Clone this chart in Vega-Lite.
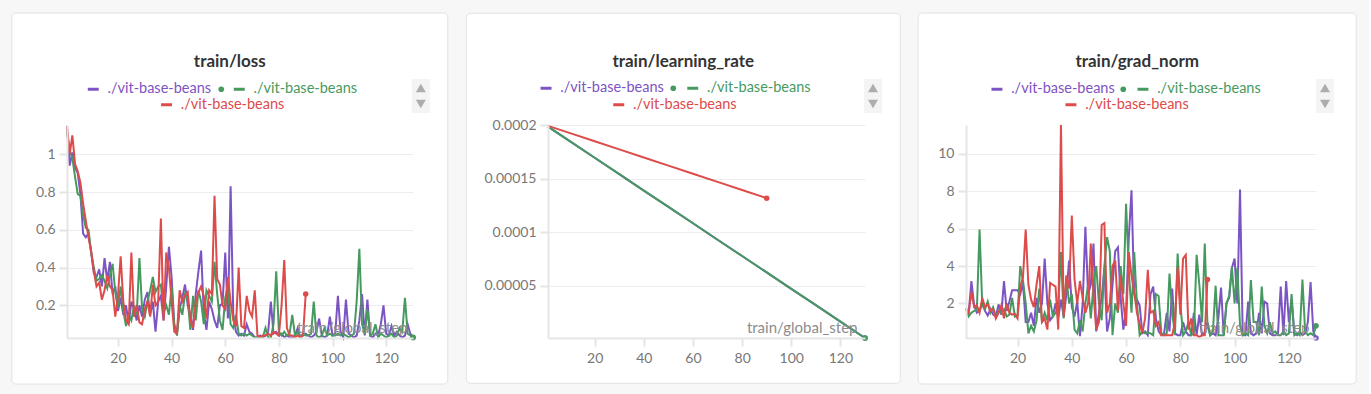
{
  "$schema": "https://vega.github.io/schema/vega-lite/v6.json",
  "background": "#f7f7f7",
  "padding": {"left": 11, "top": 12, "right": 12, "bottom": 10},
  "datasets": {
    "loss": [
      {"s":1,"a":1.14,"b":1.12,"c":1.15},{"s":2,"a":0.94,"b":1.02,"c":1.0},{"s":3,"a":1.01,"b":0.98,"c":1.1},{"s":4,"a":0.93,"b":0.88,"c":0.95},{"s":5,"a":0.9,"b":0.79,"c":0.91},
      {"s":6,"a":0.79,"b":0.78,"c":0.85},{"s":7,"a":0.58,"b":0.68,"c":0.74},{"s":8,"a":0.56,"b":0.61,"c":0.65},{"s":9,"a":0.58,"b":0.6,"c":0.56},{"s":10,"a":0.48,"b":0.48,"c":0.49},
      {"s":11,"a":0.37,"b":0.4,"c":0.38},{"s":12,"a":0.35,"b":0.33,"c":0.3},{"s":13,"a":0.39,"b":0.34,"c":0.32},{"s":14,"a":0.3,"b":0.36,"c":0.23},{"s":15,"a":0.45,"b":0.33,"c":0.28},
      {"s":16,"a":0.33,"b":0.29,"c":0.36},{"s":17,"a":0.43,"b":0.36,"c":0.3},{"s":18,"a":0.26,"b":0.42,"c":0.28},{"s":19,"a":0.3,"b":0.27,"c":0.14},{"s":20,"a":0.17,"b":0.19,"c":0.25},
      {"s":21,"a":0.24,"b":0.3,"c":0.46},{"s":22,"a":0.15,"b":0.17,"c":0.22},{"s":23,"a":0.2,"b":0.09,"c":0.12},{"s":24,"a":0.1,"b":0.15,"c":0.1},{"s":25,"a":0.22,"b":0.12,"c":0.48},
      {"s":26,"a":0.18,"b":0.2,"c":0.14},{"s":27,"a":0.12,"b":0.15,"c":0.2},{"s":28,"a":0.2,"b":0.45,"c":0.11},{"s":29,"a":0.14,"b":0.18,"c":0.1},{"s":30,"a":0.23,"b":0.14,"c":0.18},
      {"s":31,"a":0.27,"b":0.22,"c":0.22},{"s":32,"a":0.15,"b":0.28,"c":0.14},{"s":33,"a":0.22,"b":0.35,"c":0.31},{"s":34,"a":0.06,"b":0.27,"c":0.2},{"s":35,"a":0.22,"b":0.3,"c":0.22},
      {"s":36,"a":0.25,"b":0.31,"c":0.66},{"s":37,"a":0.12,"b":0.16,"c":0.12},{"s":38,"a":0.3,"b":0.2,"c":0.48},{"s":39,"a":0.51,"b":0.15,"c":0.4},{"s":40,"a":0.35,"b":0.3,"c":0.22},
      {"s":41,"a":0.1,"b":0.09,"c":0.06},{"s":42,"a":0.05,"b":0.04,"c":0.05},{"s":43,"a":0.18,"b":0.2,"c":0.28},{"s":44,"a":0.24,"b":0.15,"c":0.22},{"s":45,"a":0.31,"b":0.26,"c":0.25},
      {"s":46,"a":0.2,"b":0.23,"c":0.27},{"s":47,"a":0.15,"b":0.07,"c":0.12},{"s":48,"a":0.07,"b":0.25,"c":0.08},{"s":49,"a":0.26,"b":0.12,"c":0.22},{"s":50,"a":0.38,"b":0.28,"c":0.27},
      {"s":51,"a":0.49,"b":0.22,"c":0.3},{"s":52,"a":0.16,"b":0.1,"c":0.25},{"s":53,"a":0.07,"b":0.28,"c":0.13},{"s":54,"a":0.22,"b":0.25,"c":0.28},{"s":55,"a":0.18,"b":0.22,"c":0.26},
      {"s":56,"a":0.12,"b":0.43,"c":0.78},{"s":57,"a":0.08,"b":0.26,"c":0.34},{"s":58,"a":0.2,"b":0.12,"c":0.31},{"s":59,"a":0.21,"b":0.07,"c":0.2},{"s":60,"a":0.48,"b":0.24,"c":0.18},
      {"s":61,"a":0.13,"b":0.3,"c":0.35},{"s":62,"a":0.83,"b":0.1,"c":0.22},{"s":63,"a":0.15,"b":0.08,"c":0.12},{"s":64,"a":0.06,"b":0.15,"c":0.09},{"s":65,"a":0.04,"b":0.05,"c":0.4},
      {"s":66,"a":0.05,"b":0.04,"c":0.09},{"s":67,"a":0.04,"b":0.05,"c":0.08},{"s":68,"a":0.1,"b":0.04,"c":0.25},{"s":69,"a":0.06,"b":0.05,"c":0.17},{"s":70,"a":0.05,"b":0.04,"c":0.14},
      {"s":71,"a":0.03,"b":0.03,"c":0.28},{"s":72,"a":0.03,"b":0.03,"c":0.04},{"s":73,"a":0.04,"b":0.03,"c":0.03},{"s":74,"a":0.03,"b":0.03,"c":0.04},{"s":75,"a":0.04,"b":0.08,"c":0.04},
      {"s":76,"a":0.06,"b":0.03,"c":0.05},{"s":77,"a":0.22,"b":0.03,"c":0.04},{"s":78,"a":0.05,"b":0.1,"c":0.06},{"s":79,"a":0.06,"b":0.38,"c":0.05},{"s":80,"a":0.04,"b":0.06,"c":0.04},
      {"s":81,"a":0.05,"b":0.04,"c":0.2},{"s":82,"a":0.03,"b":0.06,"c":0.44},{"s":83,"a":0.04,"b":0.04,"c":0.08},{"s":84,"a":0.03,"b":0.05,"c":0.04},{"s":85,"a":0.03,"b":0.15,"c":0.04},
      {"s":86,"a":0.04,"b":0.04,"c":0.03},{"s":87,"a":0.08,"b":0.06,"c":0.04},{"s":88,"a":0.03,"b":0.03,"c":0.03},{"s":89,"a":0.04,"b":0.05,"c":0.04},{"s":90,"a":0.05,"b":0.04,"c":0.26},
      {"s":91,"a":0.04,"b":0.04},{"s":92,"a":0.03,"b":0.05},{"s":93,"a":0.04,"b":0.22},{"s":94,"a":0.06,"b":0.04},{"s":95,"a":0.13,"b":0.03},
      {"s":96,"a":0.04,"b":0.04},{"s":97,"a":0.03,"b":0.08},{"s":98,"a":0.04,"b":0.04},{"s":99,"a":0.14,"b":0.05},{"s":100,"a":0.04,"b":0.04},
      {"s":101,"a":0.05,"b":0.04},{"s":102,"a":0.25,"b":0.05},{"s":103,"a":0.06,"b":0.04},{"s":104,"a":0.03,"b":0.05},{"s":105,"a":0.23,"b":0.04},
      {"s":106,"a":0.05,"b":0.03},{"s":107,"a":0.04,"b":0.04},{"s":108,"a":0.03,"b":0.05},{"s":109,"a":0.04,"b":0.22},{"s":110,"a":0.12,"b":0.5},
      {"s":111,"a":0.26,"b":0.1},{"s":112,"a":0.04,"b":0.05},{"s":113,"a":0.23,"b":0.18},{"s":114,"a":0.04,"b":0.04},{"s":115,"a":0.03,"b":0.05},
      {"s":116,"a":0.05,"b":0.1},{"s":117,"a":0.04,"b":0.03},{"s":118,"a":0.1,"b":0.05},{"s":119,"a":0.2,"b":0.04},{"s":120,"a":0.05,"b":0.03},
      {"s":121,"a":0.04,"b":0.04},{"s":122,"a":0.09,"b":0.05},{"s":123,"a":0.04,"b":0.03},{"s":124,"a":0.06,"b":0.04},{"s":125,"a":0.04,"b":0.08},
      {"s":126,"a":0.03,"b":0.06},{"s":127,"a":0.04,"b":0.24},{"s":128,"a":0.1,"b":0.05},{"s":129,"a":0.05,"b":0.04},{"s":130,"a":0.03,"b":0.03}
    ],
    "lr": [
      {"s":1,"a":0.0001985,"b":0.0001985,"c":0.0001992},{"s":10,"a":0.0001847,"b":0.0001847,"c":0.0001924},{"s":20,"a":0.0001695,"b":0.0001695,"c":0.0001848},
      {"s":30,"a":0.0001542,"b":0.0001542,"c":0.0001773},{"s":40,"a":0.0001389,"b":0.0001389,"c":0.0001697},{"s":50,"a":0.0001237,"b":0.0001237,"c":0.0001621},
      {"s":60,"a":0.0001084,"b":0.0001084,"c":0.0001545},{"s":70,"a":0.0000931,"b":0.0000931,"c":0.000147},{"s":80,"a":0.0000779,"b":0.0000779,"c":0.0001394},
      {"s":90,"a":0.0000626,"b":0.0000626,"c":0.0001318},{"s":100,"a":0.0000473,"b":0.0000473},{"s":110,"a":0.0000321,"b":0.0000321},
      {"s":120,"a":0.0000168,"b":0.0000168},{"s":130,"a":0.0000015,"b":0.0000015}
    ],
    "gn": [
      {"s":1,"a":1.7,"b":1.7,"c":1.75},{"s":2,"a":1.5,"b":1.3,"c":1.5},{"s":3,"a":3.2,"b":1.5,"c":2.6},{"s":4,"a":1.9,"b":1.6,"c":1.8},{"s":5,"a":1.5,"b":1.65,"c":1.9},
      {"s":6,"a":1.6,"b":5.95,"c":1.5},{"s":7,"a":2.0,"b":1.9,"c":2.3},{"s":8,"a":1.6,"b":1.7,"c":1.8},{"s":9,"a":1.35,"b":2.1,"c":1.95},{"s":10,"a":1.7,"b":1.5,"c":1.6},
      {"s":11,"a":1.4,"b":1.8,"c":1.7},{"s":12,"a":1.3,"b":1.3,"c":1.2},{"s":13,"a":1.95,"b":1.6,"c":1.5},{"s":14,"a":1.4,"b":1.5,"c":1.9},{"s":15,"a":3.2,"b":1.7,"c":1.2},
      {"s":16,"a":1.6,"b":1.3,"c":2.0},{"s":17,"a":2.1,"b":1.4,"c":1.5},{"s":18,"a":2.7,"b":2.3,"c":1.4},{"s":19,"a":2.7,"b":1.3,"c":1.45},{"s":20,"a":2.7,"b":1.4,"c":1.2},
      {"s":21,"a":2.5,"b":4.0,"c":2.9},{"s":22,"a":3.1,"b":3.2,"c":3.4},{"s":23,"a":1.0,"b":2.0,"c":5.95},{"s":24,"a":1.0,"b":0.4,"c":3.0},{"s":25,"a":1.5,"b":0.8,"c":2.2},
      {"s":26,"a":0.8,"b":0.5,"c":1.8},{"s":27,"a":2.3,"b":1.1,"c":3.0},{"s":28,"a":1.5,"b":2.8,"c":4.0},{"s":29,"a":2.0,"b":1.0,"c":1.0},{"s":30,"a":4.4,"b":1.5,"c":1.2},
      {"s":31,"a":2.0,"b":1.1,"c":0.6},{"s":32,"a":1.1,"b":2.2,"c":3.1},{"s":33,"a":1.3,"b":1.3,"c":3.0},{"s":34,"a":2.0,"b":1.5,"c":2.9},{"s":35,"a":1.2,"b":1.8,"c":0.6},
      {"s":36,"a":2.2,"b":4.75,"c":11.55},{"s":37,"a":1.3,"b":1.2,"c":1.3},{"s":38,"a":2.5,"b":3.4,"c":3.5},{"s":39,"a":4.3,"b":2.0,"c":2.8},{"s":40,"a":1.8,"b":2.5,"c":6.7},
      {"s":41,"a":1.3,"b":0.6,"c":3.3},{"s":42,"a":2.1,"b":0.4,"c":2.0},{"s":43,"a":0.25,"b":1.1,"c":3.2},{"s":44,"a":2.0,"b":0.5,"c":2.3},{"s":45,"a":6.1,"b":2.0,"c":1.5},
      {"s":46,"a":2.5,"b":3.0,"c":2.0},{"s":47,"a":3.0,"b":1.2,"c":5.2},{"s":48,"a":5.2,"b":3.0,"c":2.5},{"s":49,"a":0.5,"b":4.0,"c":0.6},{"s":50,"a":1.5,"b":2.0,"c":1.0},
      {"s":51,"a":2.3,"b":1.1,"c":6.2},{"s":52,"a":3.9,"b":4.0,"c":6.3},{"s":53,"a":0.5,"b":5.55,"c":1.5},{"s":54,"a":1.2,"b":4.8,"c":2.0},{"s":55,"a":3.0,"b":0.3,"c":4.0},
      {"s":56,"a":4.8,"b":2.0,"c":4.3},{"s":57,"a":5.0,"b":1.5,"c":1.6},{"s":58,"a":2.3,"b":4.0,"c":3.5},{"s":59,"a":0.6,"b":2.5,"c":2.0},{"s":60,"a":1.6,"b":7.33,"c":0.8},
      {"s":61,"a":5.5,"b":3.8,"c":4.75},{"s":62,"a":8.05,"b":1.5,"c":3.5},{"s":63,"a":2.5,"b":4.75,"c":2.6},{"s":64,"a":2.2,"b":2.0,"c":1.5},{"s":65,"a":1.9,"b":0.3,"c":0.9},
      {"s":66,"a":0.4,"b":0.5,"c":0.4},{"s":67,"a":0.5,"b":0.4,"c":1.2},{"s":68,"a":0.3,"b":0.45,"c":3.8},{"s":69,"a":2.5,"b":0.4,"c":1.5},{"s":70,"a":2.9,"b":0.3,"c":1.6},
      {"s":71,"a":1.2,"b":2.5,"c":0.8},{"s":72,"a":0.5,"b":2.4,"c":1.0},{"s":73,"a":0.3,"b":0.4,"c":0.3},{"s":74,"a":0.4,"b":0.3,"c":0.3},{"s":75,"a":1.5,"b":0.4,"c":0.3},
      {"s":76,"a":0.5,"b":3.6,"c":0.3},{"s":77,"a":2.8,"b":1.5,"c":0.3},{"s":78,"a":0.4,"b":0.3,"c":1.0},{"s":79,"a":0.3,"b":4.67,"c":3.95},{"s":80,"a":0.3,"b":2.0,"c":1.4},
      {"s":81,"a":1.0,"b":0.3,"c":4.4},{"s":82,"a":0.5,"b":0.5,"c":4.6},{"s":83,"a":0.3,"b":1.0,"c":0.6},{"s":84,"a":0.3,"b":0.3,"c":1.2},{"s":85,"a":1.5,"b":0.4,"c":0.3},
      {"s":86,"a":0.3,"b":4.6,"c":0.3},{"s":87,"a":1.4,"b":3.0,"c":0.2},{"s":88,"a":0.3,"b":1.0,"c":0.3},{"s":89,"a":0.4,"b":5.2,"c":0.3},{"s":90,"a":1.0,"b":0.8,"c":3.28},
      {"s":91,"a":0.3,"b":0.3},{"s":92,"a":0.4,"b":0.5},{"s":93,"a":0.3,"b":2.95},{"s":94,"a":1.2,"b":0.3},{"s":95,"a":2.85,"b":0.3},
      {"s":96,"a":0.3,"b":0.3},{"s":97,"a":2.0,"b":2.0},{"s":98,"a":2.3,"b":2.4},{"s":99,"a":3.9,"b":3.95},{"s":100,"a":4.4,"b":2.0},
      {"s":101,"a":2.0,"b":3.9},{"s":102,"a":8.1,"b":0.8},{"s":103,"a":0.3,"b":0.3},{"s":104,"a":0.3,"b":0.4},{"s":105,"a":2.1,"b":0.3},
      {"s":106,"a":0.4,"b":3.25},{"s":107,"a":0.3,"b":1.0},{"s":108,"a":0.4,"b":1.0},{"s":109,"a":1.5,"b":0.3},{"s":110,"a":0.4,"b":2.9},
      {"s":111,"a":2.1,"b":0.8},{"s":112,"a":2.0,"b":0.4},{"s":113,"a":0.4,"b":1.0},{"s":114,"a":0.3,"b":0.4},{"s":115,"a":0.3,"b":0.5},
      {"s":116,"a":0.4,"b":0.3},{"s":117,"a":2.9,"b":0.3},{"s":118,"a":0.3,"b":0.5},{"s":119,"a":3.2,"b":0.3},{"s":120,"a":1.0,"b":0.4},
      {"s":121,"a":2.2,"b":2.5},{"s":122,"a":0.4,"b":0.3},{"s":123,"a":0.3,"b":0.4},{"s":124,"a":0.5,"b":0.3},{"s":125,"a":0.3,"b":3.28},
      {"s":126,"a":0.4,"b":0.5},{"s":127,"a":1.0,"b":0.3},{"s":128,"a":3.15,"b":0.4},{"s":129,"a":0.5,"b":0.3},{"s":130,"a":0.15,"b":0.8}
    ]
  },
  "spacing": 16,
  "resolve": {"scale": {"color": "independent", "stroke": "independent", "opacity": "independent", "shape": "independent", "size": "independent"}},
  "hconcat": [
    {
      "width": 346, "height": 213,
      "data": {"name": "loss"},
      "title": {"text": "train/loss"},
      "encoding": {"x": {"field": "s", "type": "quantitative", "scale": {"domain": [1, 130], "nice": false, "zero": false}, "axis": {"values": [20, 40, 60, 80, 100, 120], "title": "train/global_step", "titleX": 340, "zindex": 1}}},
      "layer": [
        {"transform": [{"filter": "datum.s == 1"}], "mark": {"type": "rect", "fill": "#ffffff", "stroke": "#e2e2e2", "strokeWidth": 1, "cornerRadius": 4, "clip": false},
         "encoding": {"x": {"datum": -19.58, "type": "quantitative", "scale": {"domain": [1, 130], "nice": false, "zero": false}, "axis": {"values": [20, 40, 60, 80, 100, 120], "title": "train/global_step", "titleX": 340, "zindex": 1}}, "x2": {"datum": 142.97},
                      "y": {"datum": 1.748, "type": "quantitative", "scale": {"domain": [0.027, 1.155], "nice": false, "zero": false}, "axis": {"values": [0.2, 0.4, 0.6, 0.8, 1], "format": "~r", "title": null, "zindex": 1}}, "y2": {"datum": -0.217}}},
        {"mark": {"type": "line", "strokeWidth": 2},
         "encoding": {"y": {"field": "a", "type": "quantitative", "scale": {"domain": [0.027, 1.155], "nice": false, "zero": false}, "axis": {"values": [0.2, 0.4, 0.6, 0.8, 1], "format": "~r", "title": null, "zindex": 1}},
                      "color": {"datum": "r1", "type": "nominal", "scale": {"range": ["#7d54c4"]}, "legend": {"orient": "none", "legendX": 19, "legendY": -43, "labelColor": "#7d54c4", "labelExpr": "'./vit-base-beans'"}}}},
        {"mark": {"type": "line", "strokeWidth": 2},
         "encoding": {"y": {"field": "b", "type": "quantitative", "scale": {"domain": [0.027, 1.155], "nice": false, "zero": false}, "axis": {"values": [0.2, 0.4, 0.6, 0.8, 1], "format": "~r", "title": null, "zindex": 1}},
                      "stroke": {"datum": "r2", "type": "nominal", "scale": {"range": ["#479a5f"]}, "legend": {"orient": "none", "legendX": 165, "legendY": -43, "labelColor": "#479a5f", "labelExpr": "'./vit-base-beans'"}}}},
        {"mark": {"type": "line", "strokeWidth": 2, "color": "#dd4b4b"},
         "encoding": {"y": {"field": "c", "type": "quantitative", "scale": {"domain": [0.027, 1.155], "nice": false, "zero": false}, "axis": {"values": [0.2, 0.4, 0.6, 0.8, 1], "format": "~r", "title": null, "zindex": 1}},
                      "opacity": {"datum": "r3", "type": "nominal", "scale": {"range": [1, 1]}, "legend": {"orient": "none", "legendX": 92.3, "legendY": -27.5, "labelColor": "#dd4b4b", "symbolStrokeColor": "#dd4b4b", "labelExpr": "'./vit-base-beans'"}}}},
        {"transform": [{"filter": "datum.s == 130"}], "mark": {"type": "point", "filled": true, "size": 30, "opacity": 1, "color": "#7d54c4"},
         "encoding": {"y": {"field": "a", "type": "quantitative", "scale": {"domain": [0.027, 1.155], "nice": false, "zero": false}, "axis": {"values": [0.2, 0.4, 0.6, 0.8, 1], "format": "~r", "title": null, "zindex": 1}}}},
        {"transform": [{"filter": "datum.s == 130"}], "mark": {"type": "point", "filled": true, "opacity": 1, "color": "#479a5f"},
         "encoding": {"y": {"field": "b", "type": "quantitative", "scale": {"domain": [0.027, 1.155], "nice": false, "zero": false}, "axis": {"values": [0.2, 0.4, 0.6, 0.8, 1], "format": "~r", "title": null, "zindex": 1}},
                      "size": {"datum": "live", "type": "nominal", "scale": {"range": [32, 32]}, "legend": {"orient": "none", "legendX": 147, "legendY": -43, "symbolType": "circle", "symbolFillColor": "#178a2c", "symbolStrokeWidth": 0, "labelExpr": "''"}}}},
        {"transform": [{"filter": "datum.s == 90"}], "mark": {"type": "point", "filled": true, "size": 30, "opacity": 1, "color": "#dd4b4b"},
         "encoding": {"y": {"field": "c", "type": "quantitative", "scale": {"domain": [0.027, 1.155], "nice": false, "zero": false}, "axis": {"values": [0.2, 0.4, 0.6, 0.8, 1], "format": "~r", "title": null, "zindex": 1}}}},
        {"transform": [{"filter": "datum.s < 0"}], "mark": {"type": "point", "filled": true, "size": 100, "color": "#8f8f8f"},
         "encoding": {"y": {"field": "a", "type": "quantitative", "scale": {"domain": [0.027, 1.155], "nice": false, "zero": false}, "axis": {"values": [0.2, 0.4, 0.6, 0.8, 1], "format": "~r", "title": null, "zindex": 1}},
                      "shape": {"field": "k", "type": "nominal", "scale": {"domain": ["up", "down"], "range": ["triangle-up", "triangle-down"]}, "legend": {"orient": "none", "legendX": 344.8, "legendY": -46, "direction": "vertical", "padding": 4, "fillColor": "#f4f4f4", "symbolSize": 100, "symbolFillColor": "#8f8f8f", "symbolStrokeWidth": 0, "rowPadding": 6, "labelOffset": 0, "labelFontSize": 1, "labelExpr": "''"}}}}
      ]
    },
    {
      "width": 317, "height": 213,
      "data": {"name": "lr"},
      "title": {"text": "train/learning_rate"},
      "encoding": {"x": {"field": "s", "type": "quantitative", "scale": {"domain": [1, 130], "nice": false, "zero": false}, "axis": {"values": [20, 40, 60, 80, 100, 120], "title": "train/global_step", "titleX": 309, "zindex": 1}}},
      "layer": [
        {"transform": [{"filter": "datum.s == 1"}], "mark": {"type": "rect", "fill": "#ffffff", "stroke": "#e2e2e2", "strokeWidth": 1, "cornerRadius": 4, "clip": false},
         "encoding": {"x": {"datum": -32.25, "type": "quantitative", "scale": {"domain": [1, 130], "nice": false, "zero": false}, "axis": {"values": [20, 40, 60, 80, 100, 120], "title": "train/global_step", "titleX": 309, "zindex": 1}}, "x2": {"datum": 144.36},
                      "y": {"datum": 0.00030411, "type": "quantitative", "scale": {"domain": [0.0000015, 0.0002], "nice": false, "zero": false}, "axis": {"values": [0.00005, 0.0001, 0.00015, 0.0002], "format": "~r", "title": null, "zindex": 1}}, "y2": {"datum": -0.00004076}}},
        {"mark": {"type": "line", "strokeWidth": 2},
         "encoding": {"y": {"field": "a", "type": "quantitative", "scale": {"domain": [0.0000015, 0.0002], "nice": false, "zero": false}, "axis": {"values": [0.00005, 0.0001, 0.00015, 0.0002], "format": "~r", "title": null, "zindex": 1}},
                      "color": {"datum": "r1", "type": "nominal", "scale": {"range": ["#7d54c4"]}, "legend": {"orient": "none", "legendX": -9.2, "legendY": -44, "labelColor": "#7d54c4", "labelExpr": "'./vit-base-beans'"}}}},
        {"mark": {"type": "line", "strokeWidth": 2},
         "encoding": {"y": {"field": "b", "type": "quantitative", "scale": {"domain": [0.0000015, 0.0002], "nice": false, "zero": false}, "axis": {"values": [0.00005, 0.0001, 0.00015, 0.0002], "format": "~r", "title": null, "zindex": 1}},
                      "stroke": {"datum": "r2", "type": "nominal", "scale": {"range": ["#479a5f"]}, "legend": {"orient": "none", "legendX": 137.5, "legendY": -44, "labelColor": "#479a5f", "labelExpr": "'./vit-base-beans'"}}}},
        {"mark": {"type": "line", "strokeWidth": 2, "color": "#dd4b4b"},
         "encoding": {"y": {"field": "c", "type": "quantitative", "scale": {"domain": [0.0000015, 0.0002], "nice": false, "zero": false}, "axis": {"values": [0.00005, 0.0001, 0.00015, 0.0002], "format": "~r", "title": null, "zindex": 1}},
                      "opacity": {"datum": "r3", "type": "nominal", "scale": {"range": [1, 1]}, "legend": {"orient": "none", "legendX": 63.5, "legendY": -27.5, "labelColor": "#dd4b4b", "symbolStrokeColor": "#dd4b4b", "labelExpr": "'./vit-base-beans'"}}}},
        {"transform": [{"filter": "datum.s == 130"}], "mark": {"type": "point", "filled": true, "size": 30, "opacity": 1, "color": "#7d54c4"},
         "encoding": {"y": {"field": "a", "type": "quantitative", "scale": {"domain": [0.0000015, 0.0002], "nice": false, "zero": false}, "axis": {"values": [0.00005, 0.0001, 0.00015, 0.0002], "format": "~r", "title": null, "zindex": 1}}}},
        {"transform": [{"filter": "datum.s == 130"}], "mark": {"type": "point", "filled": true, "opacity": 1, "color": "#479a5f"},
         "encoding": {"y": {"field": "b", "type": "quantitative", "scale": {"domain": [0.0000015, 0.0002], "nice": false, "zero": false}, "axis": {"values": [0.00005, 0.0001, 0.00015, 0.0002], "format": "~r", "title": null, "zindex": 1}},
                      "size": {"datum": "live", "type": "nominal", "scale": {"range": [32, 32]}, "legend": {"orient": "none", "legendX": 118, "legendY": -44, "symbolType": "circle", "symbolFillColor": "#178a2c", "symbolStrokeWidth": 0, "labelExpr": "''"}}}},
        {"transform": [{"filter": "datum.s == 90"}], "mark": {"type": "point", "filled": true, "size": 30, "opacity": 1, "color": "#dd4b4b"},
         "encoding": {"y": {"field": "c", "type": "quantitative", "scale": {"domain": [0.0000015, 0.0002], "nice": false, "zero": false}, "axis": {"values": [0.00005, 0.0001, 0.00015, 0.0002], "format": "~r", "title": null, "zindex": 1}}}},
        {"transform": [{"filter": "datum.s < 0"}], "mark": {"type": "point", "filled": true, "size": 100, "color": "#8f8f8f"},
         "encoding": {"y": {"field": "a", "type": "quantitative", "scale": {"domain": [0.0000015, 0.0002], "nice": false, "zero": false}, "axis": {"values": [0.00005, 0.0001, 0.00015, 0.0002], "format": "~r", "title": null, "zindex": 1}},
                      "shape": {"field": "k", "type": "nominal", "scale": {"domain": ["up", "down"], "range": ["triangle-up", "triangle-down"]}, "legend": {"orient": "none", "legendX": 316, "legendY": -46, "direction": "vertical", "padding": 4, "fillColor": "#f4f4f4", "symbolSize": 100, "symbolFillColor": "#8f8f8f", "symbolStrokeWidth": 0, "rowPadding": 6, "labelOffset": 0, "labelFontSize": 1, "labelExpr": "''"}}}}
      ]
    },
    {
      "width": 350, "height": 213,
      "data": {"name": "gn"},
      "title": {"text": "train/grad_norm"},
      "encoding": {"x": {"field": "s", "type": "quantitative", "scale": {"domain": [1, 130], "nice": false, "zero": false}, "axis": {"values": [20, 40, 60, 80, 100, 120], "title": "train/global_step", "titleX": 343, "zindex": 1}}},
      "layer": [
        {"transform": [{"filter": "datum.s == 1"}], "mark": {"type": "rect", "fill": "#ffffff", "stroke": "#e2e2e2", "strokeWidth": 1, "cornerRadius": 4, "clip": false},
         "encoding": {"x": {"datum": -16.62, "type": "quantitative", "scale": {"domain": [1, 130], "nice": false, "zero": false}, "axis": {"values": [20, 40, 60, 80, 100, 120], "title": "train/global_step", "titleX": 343, "zindex": 1}}, "x2": {"datum": 144.81},
                      "y": {"datum": 17.544, "type": "quantitative", "scale": {"domain": [0.15, 11.55], "nice": false, "zero": false}, "axis": {"values": [2, 4, 6, 8, 10], "format": "~r", "title": null, "zindex": 1}}, "y2": {"datum": -2.312}}},
        {"mark": {"type": "line", "strokeWidth": 2},
         "encoding": {"y": {"field": "a", "type": "quantitative", "scale": {"domain": [0.15, 11.55], "nice": false, "zero": false}, "axis": {"values": [2, 4, 6, 8, 10], "format": "~r", "title": null, "zindex": 1}},
                      "color": {"datum": "r1", "type": "nominal", "scale": {"range": ["#7d54c4"]}, "legend": {"orient": "none", "legendX": 23.7, "legendY": -43, "labelColor": "#7d54c4", "labelExpr": "'./vit-base-beans'"}}}},
        {"mark": {"type": "line", "strokeWidth": 2},
         "encoding": {"y": {"field": "b", "type": "quantitative", "scale": {"domain": [0.15, 11.55], "nice": false, "zero": false}, "axis": {"values": [2, 4, 6, 8, 10], "format": "~r", "title": null, "zindex": 1}},
                      "stroke": {"datum": "r2", "type": "nominal", "scale": {"range": ["#479a5f"]}, "legend": {"orient": "none", "legendX": 169.7, "legendY": -43, "labelColor": "#479a5f", "labelExpr": "'./vit-base-beans'"}}}},
        {"mark": {"type": "line", "strokeWidth": 2, "color": "#dd4b4b"},
         "encoding": {"y": {"field": "c", "type": "quantitative", "scale": {"domain": [0.15, 11.55], "nice": false, "zero": false}, "axis": {"values": [2, 4, 6, 8, 10], "format": "~r", "title": null, "zindex": 1}},
                      "opacity": {"datum": "r3", "type": "nominal", "scale": {"range": [1, 1]}, "legend": {"orient": "none", "legendX": 97.7, "legendY": -27.5, "labelColor": "#dd4b4b", "symbolStrokeColor": "#dd4b4b", "labelExpr": "'./vit-base-beans'"}}}},
        {"transform": [{"filter": "datum.s == 130"}], "mark": {"type": "point", "filled": true, "size": 30, "opacity": 1, "color": "#7d54c4"},
         "encoding": {"y": {"field": "a", "type": "quantitative", "scale": {"domain": [0.15, 11.55], "nice": false, "zero": false}, "axis": {"values": [2, 4, 6, 8, 10], "format": "~r", "title": null, "zindex": 1}}}},
        {"transform": [{"filter": "datum.s == 130"}], "mark": {"type": "point", "filled": true, "opacity": 1, "color": "#479a5f"},
         "encoding": {"y": {"field": "b", "type": "quantitative", "scale": {"domain": [0.15, 11.55], "nice": false, "zero": false}, "axis": {"values": [2, 4, 6, 8, 10], "format": "~r", "title": null, "zindex": 1}},
                      "size": {"datum": "live", "type": "nominal", "scale": {"range": [32, 32]}, "legend": {"orient": "none", "legendX": 150, "legendY": -43, "symbolType": "circle", "symbolFillColor": "#178a2c", "symbolStrokeWidth": 0, "labelExpr": "''"}}}},
        {"transform": [{"filter": "datum.s == 90"}], "mark": {"type": "point", "filled": true, "size": 30, "opacity": 1, "color": "#dd4b4b"},
         "encoding": {"y": {"field": "c", "type": "quantitative", "scale": {"domain": [0.15, 11.55], "nice": false, "zero": false}, "axis": {"values": [2, 4, 6, 8, 10], "format": "~r", "title": null, "zindex": 1}}}},
        {"transform": [{"filter": "datum.s < 0"}], "mark": {"type": "point", "filled": true, "size": 100, "color": "#8f8f8f"},
         "encoding": {"y": {"field": "a", "type": "quantitative", "scale": {"domain": [0.15, 11.55], "nice": false, "zero": false}, "axis": {"values": [2, 4, 6, 8, 10], "format": "~r", "title": null, "zindex": 1}},
                      "shape": {"field": "k", "type": "nominal", "scale": {"domain": ["up", "down"], "range": ["triangle-up", "triangle-down"]}, "legend": {"orient": "none", "legendX": 350, "legendY": -46, "direction": "vertical", "padding": 4, "fillColor": "#f4f4f4", "symbolSize": 100, "symbolFillColor": "#8f8f8f", "symbolStrokeWidth": 0, "rowPadding": 6, "labelOffset": 0, "labelFontSize": 1, "labelExpr": "''"}}}}
      ]
    }
  ],
  "config": {
    "font": "Lato",
    "view": {"stroke": null},
    "title": {"font": "Lato", "fontSize": 17, "fontWeight": "bold", "color": "#333333", "baseline": "middle", "offset": -58, "anchor": "middle", "frame": "bounds"},
    "axis": {"labelFont": "Lato", "labelFontSize": 14, "labelColor": "#777777", "domainColor": "#e5e5e5", "domainWidth": 2, "tickColor": "#e5e5e5", "tickWidth": 2, "tickSize": 8, "labelFlush": false, "labelOverlap": false},
    "axisX": {"grid": false, "labelPadding": 5, "titleFont": "Lato", "titleFontSize": 15, "titleFontWeight": "normal", "titleColor": "#8c8c8c", "titleAlign": "right", "titleBaseline": "middle", "titleY": -11},
    "axisY": {"grid": true, "gridColor": "#000000", "gridOpacity": 0.07, "gridWidth": 1, "labelPadding": 4},
    "legend": {"title": null, "padding": 0, "offset": 0, "labelFont": "Lato", "labelFontSize": 14.5, "labelOffset": 7, "symbolType": "stroke", "symbolStrokeWidth": 3, "symbolSize": 120}
  }
}
